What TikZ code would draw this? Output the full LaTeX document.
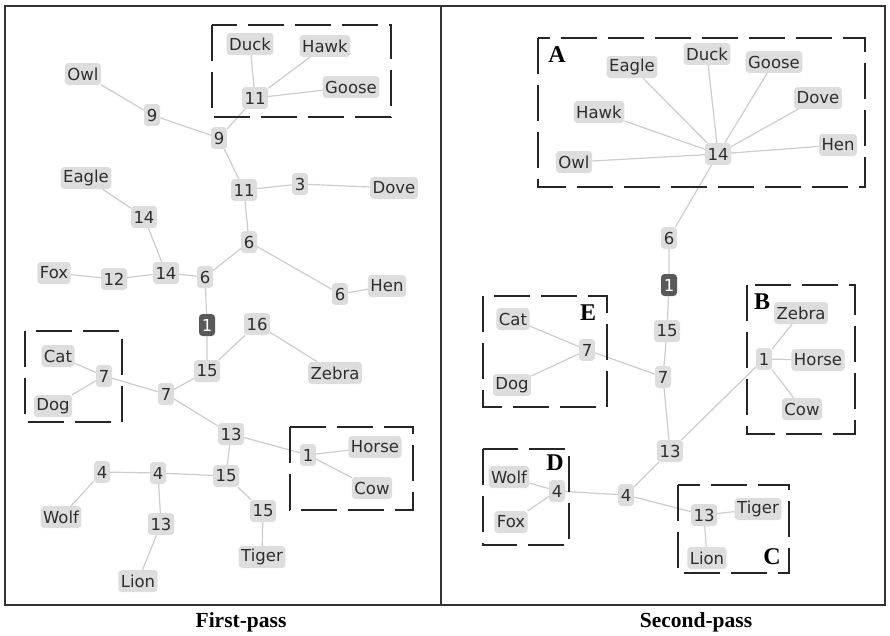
\documentclass[tikz,border=0pt]{standalone}
\usepackage{fontspec}
\setmainfont{Liberation Serif}
\newfontfamily\taxonfont{DejaVu Sans}
\usetikzlibrary{positioning}

\begin{document}
\begin{tikzpicture}[x=1pt,y=-1pt,
  every node/.style={font=\taxonfont\fontsize{16.5}{16.5}\selectfont,text=black!82},
  taxon/.style={fill=gray!27,rounded corners=3.5pt,inner xsep=2.5pt,inner ysep=2pt,minimum height=22pt,minimum width=16pt},
  root/.style={taxon,fill=black!65,text=white},
  link/.style={draw=gray!40,line width=1.2pt},
  group/.style={draw=black!85,line width=1.7pt,dash pattern=on 36pt off 11pt},
  tag/.style={font=\bfseries\fontsize{24}{24}\selectfont,text=black},
  caption/.style={font=\bfseries\fontsize{21.5}{21.5}\selectfont,text=black}
  ]
  \useasboundingbox (0,0) rectangle (890,635);

  \draw[line width=2.2pt,black!80] (5,6) rectangle (885,605);
  \draw[line width=2.2pt,black!80] (441,6) -- (441,605);

  \node[caption] (firstcap) at (241,622) {First-pass};
  \node[caption] (secondcap) at (696,622) {Second-pass};

  % first pass
  \node[taxon] (fduck) at (250,44) {Duck};
  \node[taxon] (fhawk) at (325,46) {Hawk};
  \node[taxon] (fgoose) at (351,87) {Goose};
  \node[taxon] (felevena) at (255,98) {11};
  \node[taxon] (fowl) at (83,74) {Owl};
  \node[taxon] (fninea) at (152,115) {9};
  \node[taxon] (fnineb) at (219,138) {9};
  \node[taxon] (felevenb) at (244,190) {11};
  \node[taxon] (fthree) at (300,184) {3};
  \node[taxon] (fdove) at (394,188) {Dove};
  \node[taxon] (feagle) at (86,178) {Eagle};
  \node[taxon] (ffourteena) at (144,217) {14};
  \node[taxon] (fsixa) at (249,242) {6};
  \node[taxon] (ffox) at (54,273) {Fox};
  \node[taxon] (ftwelve) at (114,279) {12};
  \node[taxon] (ffourteenb) at (166,273) {14};
  \node[taxon] (fsixb) at (205,277) {6};
  \node[taxon] (fsixc) at (340,294) {6};
  \node[taxon] (fhen) at (387,286) {Hen};
  \node[root] (froot) at (207,325) {1};
  \node[taxon] (fsixteen) at (257,324) {16};
  \node[taxon] (ffifteena) at (207,371) {15};
  \node[taxon] (fzebra) at (335,373) {Zebra};
  \node[taxon] (fcat) at (58,356) {Cat};
  \node[taxon] (fsevena) at (104,376) {7};
  \node[taxon] (fdog) at (53,406) {Dog};
  \node[taxon] (fsevenb) at (166,394) {7};
  \node[taxon] (fthirteena) at (231,434) {13};
  \node[taxon] (fone) at (308,455) {1};
  \node[taxon] (fhorse) at (375,447) {Horse};
  \node[taxon] (fcow) at (372,488) {Cow};
  \node[taxon] (ffoura) at (102,472) {4};
  \node[taxon] (ffourb) at (158,473) {4};
  \node[taxon] (ffifteenb) at (226,476) {15};
  \node[taxon] (fwolf) at (61,517) {Wolf};
  \node[taxon] (fthirteenb) at (161,524) {13};
  \node[taxon] (ffifteenc) at (263,511) {15};
  \node[taxon] (ftiger) at (262,557) {Tiger};
  \node[taxon] (flion) at (138,581) {Lion};

  \draw[link] (fduck) -- (felevena) (fhawk) -- (felevena) (fgoose) -- (felevena)
    (felevena) -- (fnineb) (fowl) -- (fninea) (fninea) -- (fnineb)
    (fnineb) -- (felevenb) (felevenb) -- (fthree) (fthree) -- (fdove)
    (felevenb) -- (fsixa) (fsixa) -- (fsixc) (fsixc) -- (fhen)
    (fsixa) -- (fsixb) (feagle) -- (ffourteena) (ffourteena) -- (ffourteenb)
    (ffox) -- (ftwelve) (ftwelve) -- (ffourteenb) (ffourteenb) -- (fsixb)
    (fsixb) -- (froot) (froot) -- (ffifteena)
    (ffifteena) -- (fsixteen) (fsixteen) -- (fzebra)
    (ffifteena) -- (fsevenb) (fsevena) -- (fsevenb)
    (fcat) -- (fsevena) (fdog) -- (fsevena)
    (fsevenb) -- (fthirteena) (fthirteena) -- (fone)
    (fone) -- (fhorse) (fone) -- (fcow)
    (fthirteena) -- (ffifteenb) (ffifteenb) -- (ffourb)
    (ffourb) -- (ffoura) (ffoura) -- (fwolf)
    (ffourb) -- (fthirteenb) (fthirteenb) -- (flion)
    (ffifteenb) -- (ffifteenc) (ffifteenc) -- (ftiger);

  \draw[group] (212,25) rectangle (391,117);
  \draw[group] (25,331) rectangle (122,422);
  \draw[group] (290,427) rectangle (413,510);

  % second pass
  \node[taxon] (seagle) at (632,67) {Eagle};
  \node[taxon] (sduck) at (707,54) {Duck};
  \node[taxon] (sgoose) at (774,62) {Goose};
  \node[taxon] (sdove) at (818,98) {Dove};
  \node[taxon] (shawk) at (599,112) {Hawk};
  \node[taxon] (shen) at (838,145) {Hen};
  \node[taxon] (sowl) at (574,162) {Owl};
  \node[taxon] (sfourteen) at (718,154) {14};
  \node[taxon] (ssix) at (669,238) {6};
  \node[root] (sroot) at (669,285) {1};
  \node[taxon] (sfifteen) at (667,331) {15};
  \node[taxon] (ssevenb) at (663,377) {7};
  \node[taxon] (scat) at (513,319) {Cat};
  \node[taxon] (ssevena) at (587,350) {7};
  \node[taxon] (sdog) at (512,385) {Dog};
  \node[taxon] (sthirteena) at (670,451) {13};
  \node[taxon] (sone) at (764,359) {1};
  \node[taxon] (szebra) at (801,313) {Zebra};
  \node[taxon] (shorse) at (818,360) {Horse};
  \node[taxon] (scow) at (802,409) {Cow};
  \node[taxon] (sfourb) at (626,495) {4};
  \node[taxon] (sfoura) at (557,491) {4};
  \node[taxon] (swolf) at (509,477) {Wolf};
  \node[taxon] (sfox) at (511,522) {Fox};
  \node[taxon] (sthirteenb) at (704,515) {13};
  \node[taxon] (stiger) at (758,509) {Tiger};
  \node[taxon] (slion) at (707,558) {Lion};

  \draw[link] (sfourteen) -- (seagle) (sfourteen) -- (sduck) (sfourteen) -- (sgoose)
    (sfourteen) -- (sdove) (sfourteen) -- (shawk) (sfourteen) -- (shen) (sfourteen) -- (sowl)
    (sfourteen) -- (ssix) (ssix) -- (sroot) (sroot) -- (sfifteen)
    (sfifteen) -- (ssevenb) (ssevenb) -- (ssevena)
    (ssevena) -- (scat) (ssevena) -- (sdog)
    (ssevenb) -- (sthirteena) (sthirteena) -- (sone)
    (sone) -- (szebra) (sone) -- (shorse) (sone) -- (scow)
    (sthirteena) -- (sfourb) (sfourb) -- (sfoura)
    (sfoura) -- (swolf) (sfoura) -- (sfox)
    (sfourb) -- (sthirteenb) (sthirteenb) -- (stiger) (sthirteenb) -- (slion);

  \draw[group] (538,38) rectangle (865,187);
  \draw[group] (747,285) rectangle (855,434);
  \draw[group] (678,485) rectangle (789,573);
  \draw[group] (483,449) rectangle (569,545);
  \draw[group] (483,296) rectangle (607,407);

  \node[tag] (tagA) at (557,55) {A};
  \node[tag] (tagB) at (762,302) {B};
  \node[tag] (tagC) at (772,557) {C};
  \node[tag] (tagD) at (555,463) {D};
  \node[tag] (tagE) at (588,313) {E};
\end{tikzpicture}
\end{document}
